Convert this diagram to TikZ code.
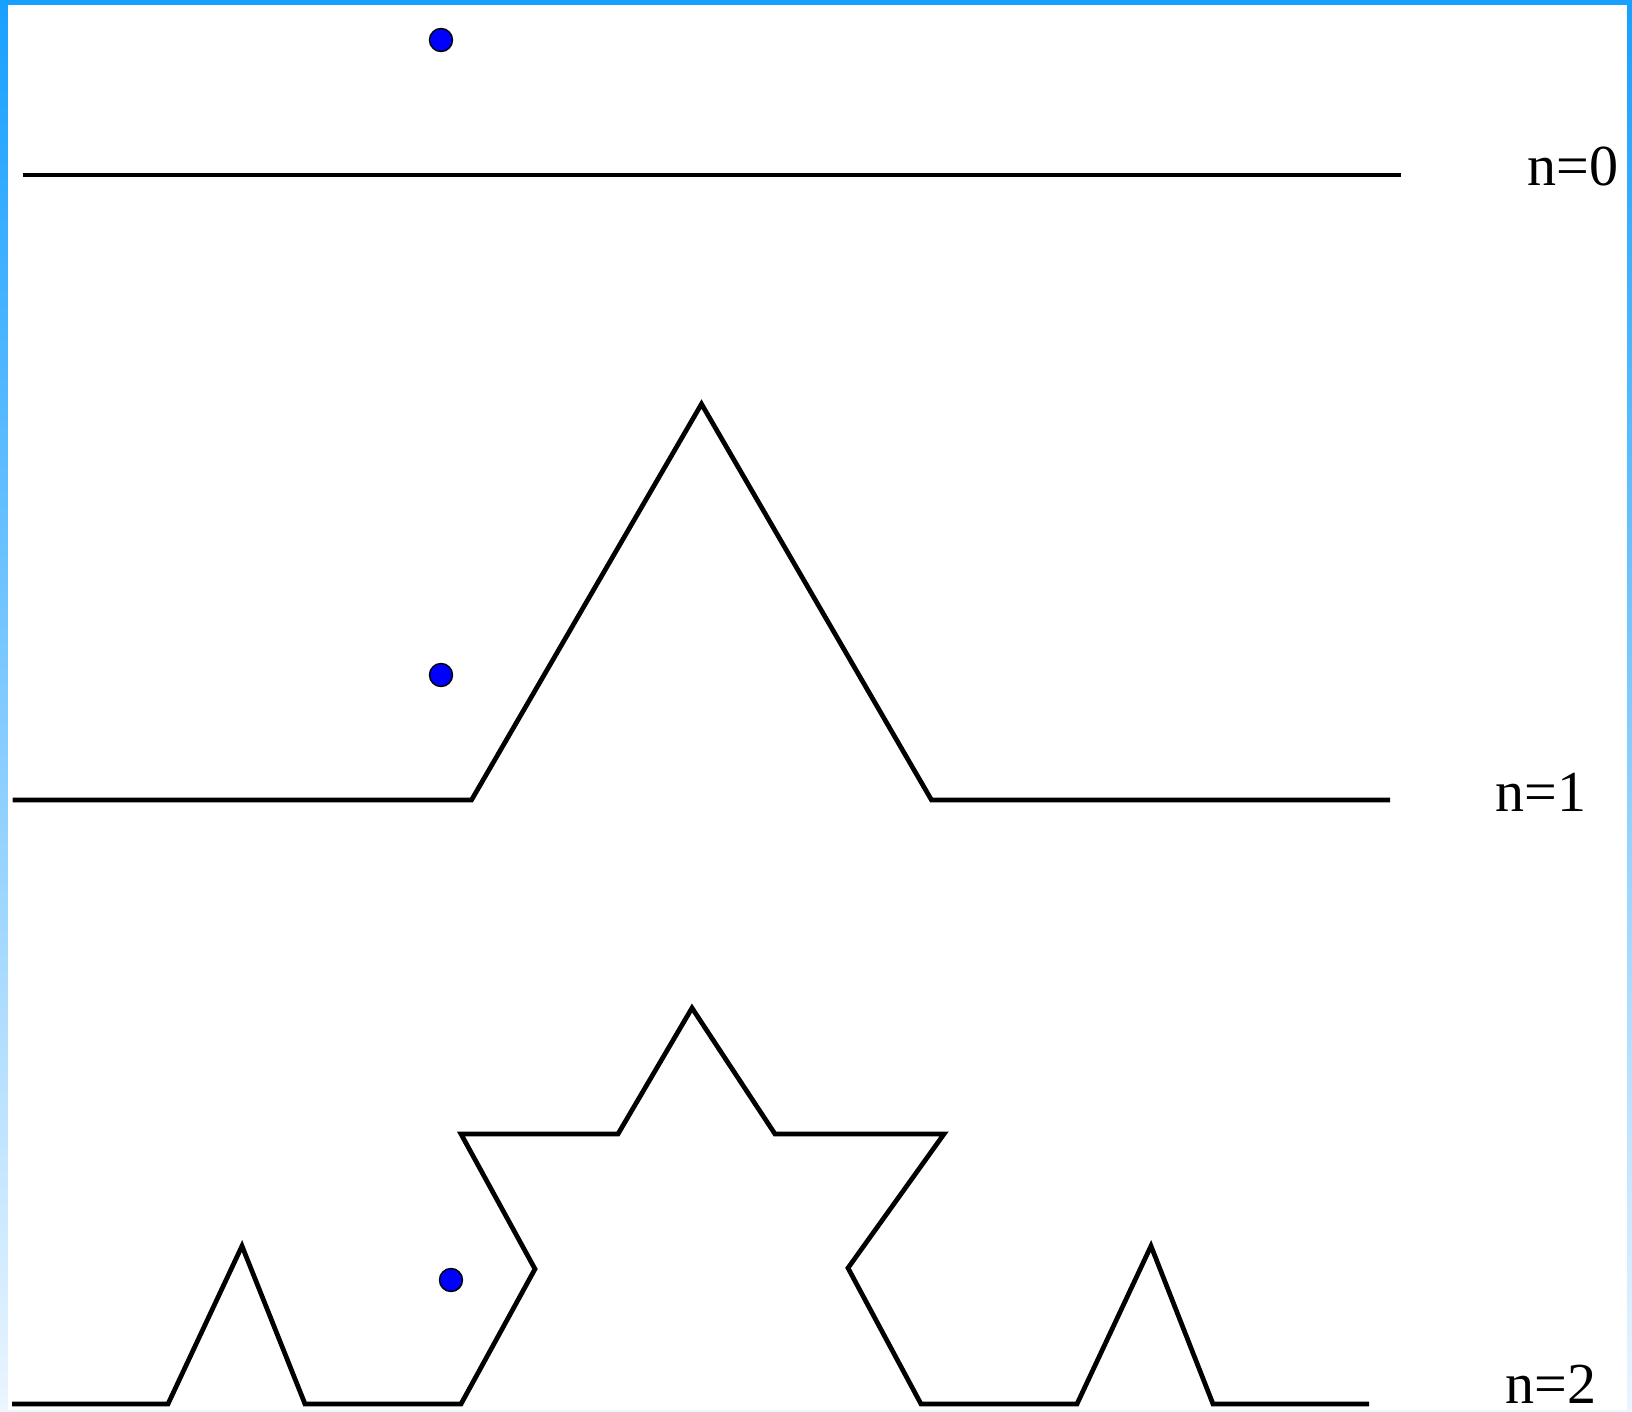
\documentclass[tikz,border=0pt]{standalone}
\usepackage{fontspec}
\setmainfont{Liberation Serif}
\definecolor{frameblue}{RGB}{24,160,255}
\definecolor{framepale}{RGB}{234,245,255}
\definecolor{dotblue}{RGB}{0,0,255}
\tikzset{
  koch/.style={line width=1.35pt, black},
  seed/.style={circle, fill=dotblue, draw=black, line width=0.4pt, inner sep=0pt, minimum size=0.23cm},
  stage/.style={anchor=base west, inner sep=0pt, font=\fontsize{16.5}{18}\selectfont}
}
\begin{document}
\begin{tikzpicture}[x=0.01cm, y=-0.01cm]
  \useasboundingbox (0,0) rectangle (1632,1412);
  % frame
  \shade[top color=frameblue, bottom color=framepale] (0,0) rectangle (8,1412);
  \shade[top color=frameblue, bottom color=framepale] (1627,0) rectangle (1632,1412);
  \fill[frameblue] (0,0) rectangle (1632,5);
  \fill[framepale] (0,1410) rectangle (1632,1412);
  % n=0
  \draw[koch] (23,175) -- (1401,175);
  \node[seed] (d0) at (441,40) {};
  \node[stage] (n0) at (1527,185) {n=0};
  % n=1
  \draw[koch] (12.5,800) -- (471.5,800) -- (701.5,404) -- (931.5,800) -- (1390,800);
  \node[seed] (d1) at (441,675) {};
  \node[stage] (n1) at (1495,811) {n=1};
  % n=2
  \draw[koch] (12,1404) -- (168,1404) -- (242,1246) -- (305,1404) -- (461,1404)
    -- (535,1269) -- (461,1134) -- (618,1134) -- (692,1008) -- (775,1134)
    -- (944,1134) -- (848,1268) -- (921,1404) -- (1077,1404) -- (1151,1246)
    -- (1213,1404) -- (1369,1404);
  \node[seed] (d2) at (451,1280) {};
  \node[stage] (n2) at (1505,1403) {n=2};
\end{tikzpicture}
\end{document}
